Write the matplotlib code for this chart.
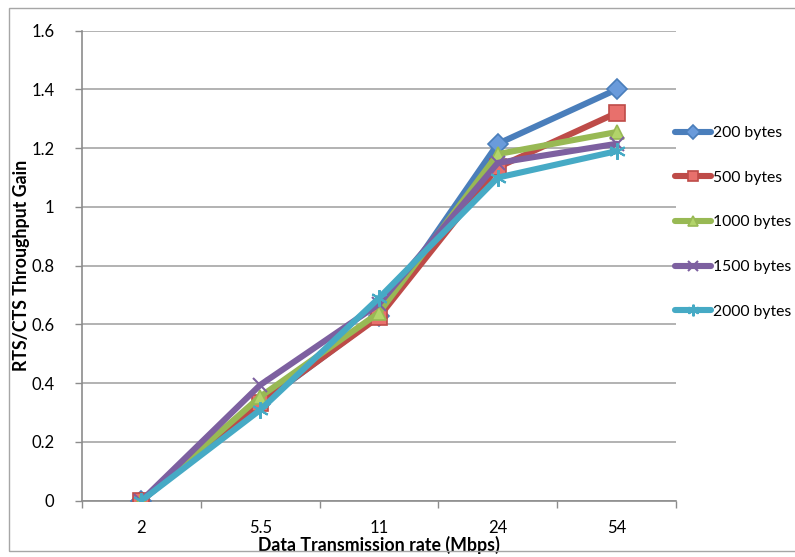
import matplotlib
matplotlib.use("Agg")
import matplotlib.pyplot as plt
from matplotlib.patches import Rectangle

plt.rcParams['font.family'] = ['Lato', 'DejaVu Sans']

categories = ["2", "5.5", "11", "24", "54"]
series_names = ["200 bytes", "500 bytes", "1000 bytes", "1500 bytes", "2000 bytes"]
s200 = [0.0, 0.33, 0.63, 1.215, 1.40]
s500 = [0.0, 0.333, 0.626, 1.135, 1.32]
s1000 = [0.0, 0.354, 0.64, 1.18, 1.255]
s1500 = [0.0, 0.394, 0.67, 1.15, 1.215]
s2000 = [0.0, 0.309, 0.69, 1.10, 1.19]
yticks = [0, 0.2, 0.4, 0.6, 0.8, 1, 1.2, 1.4, 1.6]
ytick_labels = ["0", "0.2", "0.4", "0.6", "0.8", "1", "1.2", "1.4", "1.6"]

colors = ["#4A7EBB", "#BE4B48", "#98B954", "#7D60A0", "#46AAC5"]
faces = ["#6A9BDB", "#E8706C", "#B2D46A", "#9A7FBE", "#66C4DE"]
markers = ["D", "s", "^", "x", (6, 2, 0)]
msizes = [10, 11, 10, 10, 12]

fig = plt.figure(figsize=(7.95, 5.57), dpi=100)
ax = fig.add_axes([82/795, 1-500.7/557, (676-82)/795, (500.7-30.7)/557])

x = list(range(len(categories)))
data = [s200, s500, s1000, s1500, s2000]
handles = []
for vals, name, c, fc, m, ms in zip(data, series_names, colors, faces, markers, msizes):
    h, = ax.plot(x, vals, color=c, lw=4.4, marker=m, markersize=ms,
                 markerfacecolor=fc, markeredgecolor=c, markeredgewidth=1.2 if m not in ("x", (6, 2, 0)) else 1.5,
                 solid_capstyle='round', solid_joinstyle='round', label=name, zorder=3)
    handles.append(h)

ax.set_xlim(-0.5, len(categories) - 0.5)
ax.set_ylim(0, 1.6)
ax.set_yticks(yticks)
ax.set_yticklabels(ytick_labels)
ax.set_xticks(x)
ax.set_xticklabels(categories)
ax.set_xticks([i - 0.5 for i in range(len(categories) + 1)], minor=True)
ax.tick_params(axis='x', which='major', length=0, pad=14, labelsize=12)
ax.tick_params(axis='x', which='minor', length=5, color='#8C8C8C', width=1, direction='out')
ax.tick_params(axis='y', length=5, color='#8C8C8C', width=1, labelsize=12, pad=15)
ax.grid(axis='y', color='#A6A6A6', lw=1.2, zorder=0)
for s in ['top', 'right']:
    ax.spines[s].set_visible(False)
for s in ['left', 'bottom']:
    ax.spines[s].set_color('#8C8C8C')
    ax.spines[s].set_linewidth(1.2)

ax.set_xlabel("Data Transmission rate (Mbps)", fontsize=12.8, fontweight='bold', labelpad=0)
ax.set_ylabel("RTS/CTS Throughput Gain", fontsize=12.8, fontweight='bold')
ax.yaxis.set_label_coords((30 - 82) / 594, 0.5)

leg = fig.legend(handles=handles, loc='upper left', bbox_to_anchor=(669/795, 1-120/557),
                 frameon=False, fontsize=11.3, handlelength=2.3, handletextpad=0.1,
                 labelspacing=1.95, borderaxespad=0, markerscale=0.7)

fig.patches.append(Rectangle((9/795, 1-551/557), 1.0, (551-8)/557, transform=fig.transFigure,
                             fill=False, edgecolor='#A6A6A6', lw=1.0, zorder=0))

fig.savefig("out.png", dpi=100)
